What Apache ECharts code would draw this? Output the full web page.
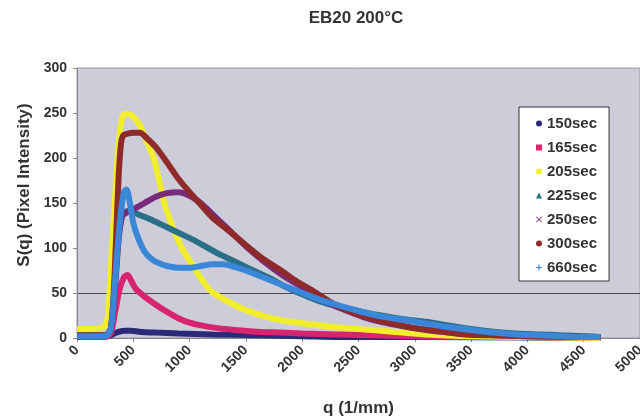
<!DOCTYPE html>
<html>
<head>
<meta charset="utf-8">
<script src="https://cdn.jsdelivr.net/npm/echarts@6/dist/echarts.min.js"></script>
<style>
html,body{margin:0;padding:0;background:#fff;}
#c{width:640px;height:419px;}
</style>
</head>
<body>
<div id="c"></div>
<script>
const titleText = 'EB20 200°C';
const xName = 'q (1/mm)';
const yName = 'S(q) (Pixel Intensity)';
const seriesNames = ['150sec', '165sec', '205sec', '225sec', '250sec', '300sec', '660sec'];
const seriesColors = ['#2a2a78', '#d8246e', '#f2ee2c', '#2a6e88', '#7a2a7a', '#8e2a2a', '#3a86d8'];

const s150 = [[0,2],[250,2],[300,3],[350,6],[420,8],[480,8],[550,7],[700,6],[900,5],[1200,4],[1600,3],[2000,2],[2500,1],[3000,1],[4000,0.5],[4650,0]];
const s165 = [[0,1],[250,1],[300,5],[340,30],[380,55],[420,68],[450,70],[480,64],[520,55],[600,46],[700,37],[800,29],[900,22],[1000,17],[1100,14],[1250,11],[1400,9],[1600,7],[1800,6],[2000,5],[2300,4],[2600,3],[3000,2],[3500,1],[4000,1],[4650,0]];
const s205 = [[0,10],[100,10],[200,11],[250,14],[280,30],[300,80],[330,140],[360,200],[390,238],[420,249],[460,249],[500,246],[560,236],[620,218],[680,200],[730,175],[770,152],[830,130],[880,114],[930,100],[1000,86],[1080,70],[1150,58],[1200,51],[1350,40],[1500,31],[1700,23],[1900,18],[2100,15],[2300,12],[2500,10],[2800,7],[3100,4],[3500,2],[4000,1],[4650,0]];
const s225 = [[0,3],[250,3],[300,10],[330,50],[360,100],[390,130],[420,140],[470,141],[550,137],[650,132],[750,126],[850,120],[950,114],[1050,108],[1150,101],[1250,94],[1350,88],[1450,82],[1550,76],[1650,70],[1750,64],[1850,57],[1950,51],[2050,46],[2200,39],[2350,34],[2500,30],[2700,25],[2900,21],[3100,18],[3300,14],[3500,10],[3700,7],[3900,5],[4100,4],[4300,3],[4500,2],[4650,1]];
const s250 = [[0,2],[250,2],[300,10],[340,60],[370,110],[400,135],[450,140],[500,143],[600,150],[700,157],[800,161],[900,162],[1000,158],[1100,150],[1200,138],[1350,120],[1500,102],[1650,86],[1800,72],[1950,60],[2100,49],[2250,38],[2400,30],[2550,23],[2700,18],[2900,13],[3100,9],[3400,5],[3700,3],[4000,2],[4650,1]];
const s300 = [[0,3],[250,3],[300,10],[330,60],[350,120],[370,180],[390,215],[410,225],[450,227],[500,228],[560,228],[620,222],[700,212],[800,195],[900,177],[1000,162],[1100,148],[1200,134],[1350,119],[1500,103],[1650,88],[1800,76],[1950,63],[2100,52],[2250,40],[2400,31],[2550,24],[2700,19],[2850,15],[3000,11],[3200,8],[3450,4],[3700,3],[4000,2],[4650,1]];
const s660 = [[0,2],[250,2],[300,10],[330,50],[360,100],[390,140],[420,163],[440,165],[470,150],[500,128],[540,112],[600,96],[660,88],[730,83],[800,80],[900,78],[1000,78],[1100,80],[1200,82],[1300,82],[1400,79],[1500,75],[1600,70],[1700,65],[1800,60],[1900,55],[2000,50],[2150,43],[2300,37],[2500,30],[2700,24],[2900,20],[3100,16],[3300,12],[3500,9],[3700,6],[3900,4],[4100,3],[4300,2],[4500,1],[4650,1]];
const seriesData = [s150, s165, s205, s225, s250, s300, s660];

const xTicks = {min: 0, max: 5000, interval: 500};
const yTicks = {min: 0, max: 300, interval: 50};

const legendIcons = [
  'circle', 'rect', 'circle', 'triangle',
  'path://M1,0L5,4L9,0L10,1L6,5L10,9L9,10L5,6L1,10L0,9L4,5L0,1Z',
  'circle',
  'path://M4,0h2v4h4v2h-4v4h-2v-4h-4v-2h4z'
];

const font = '"Liberation Sans", Arial, sans-serif';
const chart = echarts.init(document.getElementById('c'), null, {renderer: 'canvas'});
chart.setOption({
  animation: false,
  backgroundColor: '#ffffff',
  title: {
    text: titleText, left: 351, top: 5, textAlign: 'center',
    textStyle: {fontFamily: font, fontSize: 17, fontWeight: 'bold', color: '#333'}
  },
  grid: {
    left: 77, top: 68, width: 563, height: 270,
    outerBoundsMode: 'none', containLabel: false,
    show: true, backgroundColor: '#cdcdd9', borderColor: '#9a9aa6', borderWidth: 1
  },
  legend: {
    orient: 'vertical', left: 519, top: 107,
    backgroundColor: '#ffffff', borderColor: '#333', borderWidth: 1,
    padding: [9, 12, 6, 17], itemGap: 9, itemWidth: 6, itemHeight: 6,
    textStyle: {fontFamily: font, fontSize: 15, fontWeight: 'bold', color: '#333'},
    data: seriesNames.map((n, i) => ({name: n, icon: legendIcons[i]}))
  },
  xAxis: {
    type: 'value', min: xTicks.min, max: xTicks.max, interval: xTicks.interval,
    name: xName, nameLocation: 'middle', nameGap: 62,
    nameTextStyle: {fontFamily: font, fontSize: 17, fontWeight: 'bold', color: '#333'},
    axisLine: {show: true, lineStyle: {color: '#888', width: 1}},
    axisTick: {show: true, length: 4, lineStyle: {color: '#888'}},
    splitLine: {show: false},
    axisLabel: {rotate: 45, margin: 10, fontFamily: font, fontSize: 14, fontWeight: 'bold', color: '#333',
      formatter: v => String(v)}
  },
  yAxis: {
    type: 'value', min: yTicks.min, max: yTicks.max, interval: yTicks.interval,
    name: yName, nameLocation: 'middle', nameGap: 44,
    nameTextStyle: {fontFamily: font, fontSize: 17, fontWeight: 'bold', color: '#333', padding: [0, 0, 0, 36]},
    axisLine: {show: true, lineStyle: {color: '#888', width: 1}},
    axisTick: {show: true, length: 4, lineStyle: {color: '#888'}},
    splitLine: {show: true, lineStyle: {color: ['transparent', '#4a4a4a', 'transparent', 'transparent', 'transparent', 'transparent', 'transparent'], width: 1}},
    axisLabel: {margin: 10, fontFamily: font, fontSize: 14, fontWeight: 'bold', color: '#333'}
  },
  series: seriesNames.map((n, i) => ({
    name: n, type: 'line', data: seriesData[i],
    showSymbol: false, smooth: 0.25,
    color: seriesColors[i],
    lineStyle: {width: 6, color: seriesColors[i]},
    itemStyle: {color: seriesColors[i]},
    emphasis: {disabled: true}
  }))
});
</script>
</body>
</html>
